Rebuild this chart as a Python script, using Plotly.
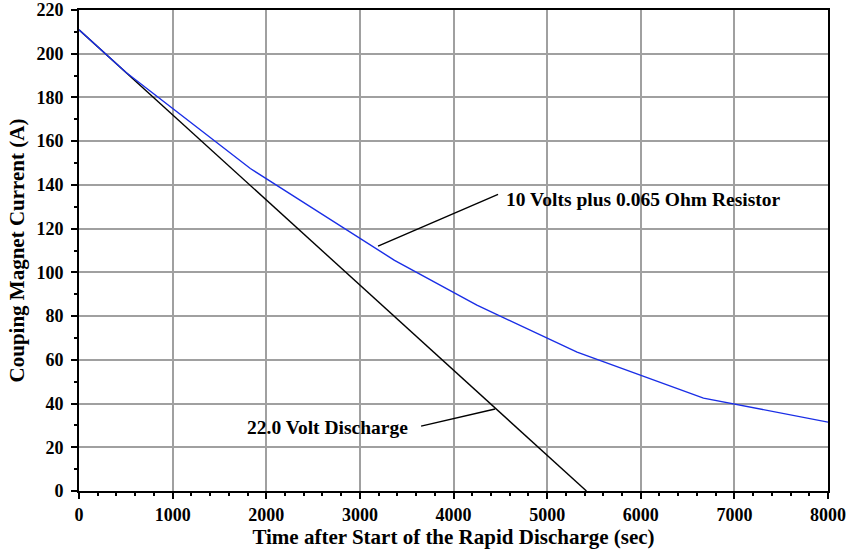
import plotly.graph_objects as go

# Data
black_x = [0, 5420]
black_y = [211, 0]

blue_x = [0, 500, 1830, 3370, 4250, 5320, 6670, 8000]
blue_y = [211, 191.5, 147.5, 105.5, 85, 63.5, 42.5, 31.5]

x_tickvals = [0, 1000, 2000, 3000, 4000, 5000, 6000, 7000, 8000]
y_tickvals = list(range(0, 221, 20))

label_blue = "10 Volts plus 0.065 Ohm Resistor"
label_black = "22.0 Volt Discharge"

FONT = "Liberation Serif"

fig = go.Figure()
fig.add_trace(go.Scatter(x=black_x, y=black_y, mode="lines",
                         line=dict(color="#000000", width=1.4), showlegend=False))
fig.add_trace(go.Scatter(x=blue_x, y=blue_y, mode="lines",
                         line=dict(color="#1a2ee6", width=1.4), showlegend=False))

# leader lines
fig.add_shape(type="line", xref="x", yref="y", x0=3194, y0=112, x1=4476, y1=135.7,
              line=dict(color="black", width=1.4))
fig.add_shape(type="line", xref="x", yref="y", x0=3654, y0=29.7, x1=4444, y1=37.5,
              line=dict(color="black", width=1.4))

fig.add_annotation(x=4540, y=133.5, xref="x", yref="y", text=label_blue, showarrow=False,
                   xanchor="left", yanchor="middle",
                   font=dict(family=FONT, size=19.5, color="black", weight="bold"))
fig.add_annotation(x=3530, y=29.2, xref="x", yref="y", text=label_black, showarrow=False,
                   xanchor="right", yanchor="middle",
                   font=dict(family=FONT, size=19.5, color="black", weight="bold"))

axis_common = dict(
    showline=True, linecolor="black", linewidth=2, mirror=True,
    showgrid=True, gridcolor="#a0a0a0", gridwidth=1.5,
    ticks="outside", tickcolor="black", tickwidth=1.5, ticklen=6,
    zeroline=False, automargin=False,
    tickfont=dict(family=FONT, size=18, color="black", weight="bold"),
)

fig.update_xaxes(range=[0, 8000], tickvals=x_tickvals,
                 minor=dict(dtick=200, ticks="outside", ticklen=3, tickcolor="black", tickwidth=1.5, showgrid=False),
                 title=dict(text="Time after Start of the Rapid Discharge (sec)",
                            font=dict(family=FONT, size=21, color="black", weight="bold"), standoff=2),
                 **axis_common)
fig.update_yaxes(range=[0, 220], tickvals=y_tickvals,
                 minor=dict(dtick=10, ticks="outside", ticklen=3, tickcolor="black", tickwidth=1.5, showgrid=False),
                 title=dict(text="Couping Magnet Current (A)",
                            font=dict(family=FONT, size=21, color="black", weight="bold"), standoff=6),
                 ticklabelstandoff=4,
                 **axis_common)

fig.update_layout(
    width=848, height=554,
    margin=dict(l=79, r=20, t=10, b=63),
    plot_bgcolor="white", paper_bgcolor="white",
    font=dict(family=FONT, color="black"),
)

fig.write_html("out.html")
